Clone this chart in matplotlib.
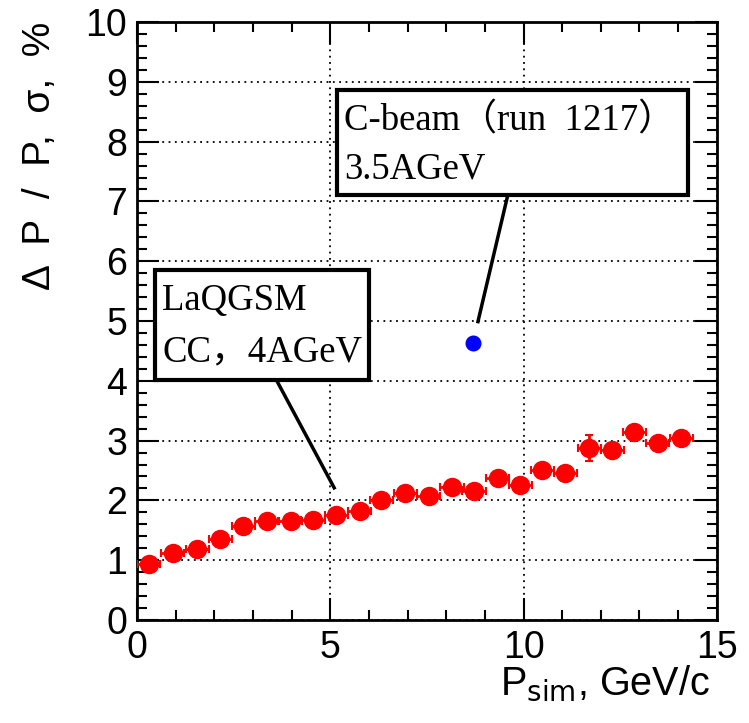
import matplotlib
matplotlib.use("Agg")
import matplotlib.pyplot as plt
from matplotlib.ticker import MultipleLocator
from matplotlib.patches import Rectangle

# Data
p_sim = [0.30, 0.92, 1.56, 2.15, 2.75, 3.35, 3.98, 4.55, 5.15, 5.76, 6.32, 6.94,
         7.55, 8.15, 8.72, 9.33, 9.92, 10.48, 11.08, 11.70, 12.30, 12.87, 13.47, 14.08]
res = [0.94, 1.12, 1.18, 1.36, 1.58, 1.65, 1.65, 1.68, 1.76, 1.83, 2.01, 2.12,
       2.08, 2.23, 2.15, 2.37, 2.26, 2.51, 2.46, 2.88, 2.85, 3.14, 2.96, 3.04]
xerr = [0.3] * 24
yerr = [0.06, 0.06, 0.06, 0.06, 0.06, 0.06, 0.06, 0.06, 0.06, 0.06, 0.07, 0.07,
        0.07, 0.07, 0.07, 0.08, 0.08, 0.08, 0.08, 0.22, 0.10, 0.12, 0.10, 0.09]
beam_p = [8.69]
beam_res = [4.63]

xticks = [0, 5, 10, 15]
yticks = list(range(0, 11))

plt.rcParams['font.family'] = ['Liberation Sans', 'DejaVu Sans']
fig = plt.figure(figsize=(7.49, 7.23), dpi=100)
ax = fig.add_axes([0.183, 0.1425, 0.774, 0.827])

ax.set_xlim(0, 15)
ax.set_ylim(0, 10)

ax.grid(True, which='major', color='black', linestyle=(0, (1, 2.5)), linewidth=1.3, zorder=0)

ax.errorbar(p_sim, res, xerr=xerr, yerr=yerr, fmt='o', color='red', ecolor='red',
            markersize=13, elinewidth=2, capsize=3, capthick=1.5, zorder=3)
ax.plot(beam_p, beam_res, 'o', color='blue', markersize=10.5, zorder=4)

# annotation boxes
box_kw = dict(fill=True, facecolor='white', edgecolor='black', linewidth=3, zorder=5)
ax.add_patch(Rectangle((5.17, 7.10), 14.25 - 5.17, 8.86 - 7.10, **box_kw))
ax.add_patch(Rectangle((0.47, 4.02), 6.0 - 0.47, 5.85 - 4.02, **box_kw))
serif = ['Liberation Serif', 'Noto Sans CJK SC']
ax.text(5.36, 8.19, "C-beam（run  1217）", family=serif, fontsize=26.5, va='baseline', ha='left', zorder=6)
ax.text(5.36, 7.39, "3.5AGeV", family=serif, fontsize=26.5, va='baseline', ha='left', zorder=6)
ax.text(0.65, 5.18, "LaQGSM", family=serif, fontsize=26.5, va='baseline', ha='left', zorder=6)
ax.text(0.65, 4.33, "CC，4AGeV", family=serif, fontsize=26.5, va='baseline', ha='left', zorder=6)
ax.plot([9.59, 8.82], [7.10, 4.99], color='black', linewidth=2.5, zorder=4)
ax.plot([3.6, 5.1], [4.02, 2.21], color='black', linewidth=2.5, zorder=4)

ax.set_xticks(xticks)
ax.set_yticks(yticks)
ax.xaxis.set_minor_locator(MultipleLocator(1))
ax.yaxis.set_minor_locator(MultipleLocator(0.2))
ax.tick_params(which='both', direction='in', top=True, right=True, labelsize=27, width=1.5, pad=7)
ax.tick_params(which='major', length=16)
ax.tick_params(which='minor', length=7.5)
for s in ax.spines.values():
    s.set_linewidth(2)

ax.text(-0.168, 1.0, "Δ  P  /  P,  σ,  %", transform=ax.transAxes, rotation=90,
        ha='center', va='top', fontsize=28)
ax.text(0.988, -0.072, r"P$_{\rm sim}$, GeV/c", transform=ax.transAxes, ha='right', va='top',
        fontsize=28.5)

fig.savefig("out.png", dpi=100)
